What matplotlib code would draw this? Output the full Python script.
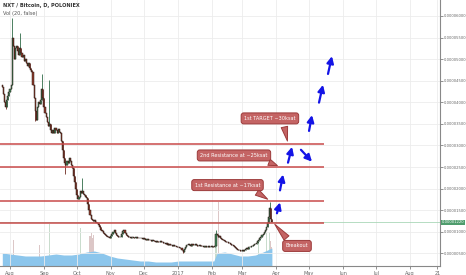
import numpy as np
import pandas as pd
import matplotlib
matplotlib.use('Agg')
import matplotlib.pyplot as plt
import matplotlib.dates as mdates
import matplotlib.transforms as mtransforms

SAT = 1e-8  # prices below are in satoshi

# daily closes, NXT/BTC, from 2016-07-25
close = [4350, 4200, 4000, 3900, 4050, 4150, 4250, 4300, 4400, 5500,
         5300, 5000, 5250, 5300,
         5200, 5100, 5250, 5150, 5050,
         5100, 4950, 5000, 4900,
         4850, 4900, 4800, 4750, 4700,
         4400, 4100, 3800, 3600,
         3900, 4000, 3950, 4050, 4300,
         4100, 3900, 3750, 3650,
         3550, 3450, 3500, 3350, 3300,
         3350, 3300, 3400, 3350, 3300, 3380, 3320, 3300,
         3100, 2900, 2700, 2600,
         2550, 2650, 2600, 2700, 2650, 2550, 2480,
         2300, 2150, 2000, 1850, 1750,
         1800, 1950, 1900, 1950,
         1880, 1850, 1800, 1780,
         1650, 1500, 1400, 1300, 1270,
         1250, 1280, 1230, 1210, 1200,
         1150, 1100, 1050, 1020, 980, 950, 920, 900, 880,
         870, 860, 900, 950, 1000,
         1040, 980, 930, 900, 880, 870, 880,
         950, 1020, 1040, 980,
         930, 900, 880, 870, 860, 870, 880, 860, 850, 870, 860, 850, 860, 850,
         850, 840, 860, 830, 820, 840, 810, 800, 820, 790, 800, 780, 790, 770,
         780, 760, 770, 780, 770,
         760, 740, 750, 720, 730, 700, 710, 690, 700, 680, 690, 670, 660, 650,
         640, 650, 630, 620,
         580, 540,
         600, 650, 700, 690, 720, 700, 680, 710, 700, 690, 720, 700, 680, 670,
         690, 680,
         670, 660, 650, 660, 640, 650, 660, 640, 650, 660, 650, 640, 660,
         950, 920, 880, 900, 860, 840,
         820, 800, 790, 770, 760, 740, 730, 720, 700, 690, 670, 650, 630, 610, 590,
         580, 560, 550, 570, 560, 580,
         600, 620, 610, 650, 640, 680, 670, 700, 720, 710, 750, 780, 800,
         850, 880, 920, 960, 1000, 1050, 1100,
         1200, 1350, 1550,
         1300, 1220]
first_open = 4400
# notable wicks (day index -> price)
wick_high = {9: 5950, 16: 5600, 36: 4660, 43: 4520, 73: 2250, 195: 1050, 244: 1680}
wick_low = {3: 3850, 30: 3560, 57: 2340, 165: 520}

# volume bars that show above the average (day index -> volume)
vol_spikes = {10: 26, 34: 21, 43: 42, 71: 38, 80: 30, 81: 33, 82: 28, 83: 31,
              195: 30, 197: 64, 234: 26, 237: 13, 241: 33, 244: 34, 245: 25, 246: 19}
# volume moving average (20), one reading per week
vol_ma_idx = [0, 7, 14, 21, 28, 35, 42, 49, 56, 63, 70, 77, 84, 91, 98, 105, 112,
              119, 126, 133, 140, 147, 154, 161, 168, 175, 182, 189, 193, 196,
              203, 210, 217, 224, 231, 238, 246]
vol_ma = [13, 12, 11, 10, 10, 10, 11, 12, 11, 11, 12, 14, 15, 13, 10, 8, 7,
          6, 5, 5, 4, 4, 4, 5, 5, 5, 5, 5, 5, 13,
          14, 12, 10, 10, 11, 14, 18]

levels = [1210, 1720, 2510, 3030]
last_price = 1220

notes = ['1st TARGET ~30ksat', '2nd Resistance at ~25ksat',
         '1st Resistance at ~17ksat', 'Breakout']
note_text_day = [237.2, 204.4, 198.5, 261.9]   # days after 2016-08-01
note_text_px = [3627, 2769, 2082, 673]
note_tip_day = [253.7, 246.4, 237.3, 240.0]
note_tip_px = [3040, 2510, 1720, 1223]
note_rel = [(0.75, 0.3), (0.8, 0.3), (0.8, 0.3), (0.3, 0.7)]

arrow_d0 = [243.6, 246.4, 253.7, 265.5, 272.9, 282.0, 290.2]
arrow_p0 = [1429, 1960, 2602, 2900, 3337, 3993, 4657]
arrow_d1 = [246.4, 249.2, 257.4, 275.6, 275.6, 285.6, 293.8]
arrow_p1 = [1681, 2327, 2968, 2625, 3704, 4405, 5069]

days = pd.date_range('2016-07-25', periods=len(close), freq='D')
x = mdates.date2num(days)
base = mdates.date2num(pd.Timestamp('2016-08-01'))
c = np.array(close, dtype=float)
o = np.concatenate([[first_open], c[:-1]])
hi = np.maximum(o, c)
lo = np.minimum(o, c)
for k, v in wick_high.items():
    hi[k] = v
for k, v in wick_low.items():
    lo[k] = v
up = c >= o

fig = plt.figure(figsize=(4.66, 2.75), dpi=100)
ax = fig.add_axes([0, 9 / 275, 440 / 466, 266 / 275])
axv = ax.twinx()
ax.set_zorder(axv.get_zorder() + 1)
ax.patch.set_visible(False)

# volume
vi = np.array(list(vol_spikes.keys()))
vv = np.array(list(vol_spikes.values()))
axv.bar(x[vi], vv, width=1.0, color=np.where(up[vi], '#c9dccd', '#dcc7c7'), zorder=1)
axv.fill_between(x[vol_ma_idx], 0, vol_ma, color='#8cc6ec', lw=0, zorder=2)
axv.set_ylim(0, 266)
axv.set_yticks([])
for s in axv.spines.values():
    s.set_visible(False)

# candles
ax.vlines(x, hi * SAT, lo * SAT, color=np.where(up, '#2f6b48', '#6e2a20'), lw=0.6, zorder=3)
ax.bar(x, (c - o) * SAT, bottom=o * SAT, width=1.0,
       color=np.where(up, '#3f8a5c', '#8e3b2b'), edgecolor='#2a1a14', lw=0.35, zorder=4)

xmin = base - 9.1
xmax = base + 392.4
end_lines = base + 286.5
for lv in levels:
    ax.hlines(lv * SAT, xmin, end_lines, color='#c94a4a', lw=1.1, zorder=5)
ax.axhline(last_price * SAT, color='#a9d7b8', lw=0.6, zorder=2)

for d0, p0, d1, p1 in zip(arrow_d0, arrow_p0, arrow_d1, arrow_p1):
    ax.annotate('', xy=(base + d1, p1 * SAT), xytext=(base + d0, p0 * SAT),
                arrowprops=dict(arrowstyle='-|>,head_length=0.5,head_width=0.25',
                                color='#1414e6', lw=1.6, mutation_scale=8,
                                shrinkA=0, shrinkB=0), zorder=6)

for t, td, tp, pd_, pp, rp in zip(notes, note_text_day, note_text_px,
                                  note_tip_day, note_tip_px, note_rel):
    ax.annotate(t, xy=(base + pd_, pp * SAT), xytext=(base + td, tp * SAT),
                ha='center', va='center', fontsize=3.6, color='white',
                bbox=dict(boxstyle='round,pad=0.6,rounding_size=0.5', fc='#c46464',
                          ec='#9c3a3a', lw=0.7),
                arrowprops=dict(arrowstyle='wedge,tail_width=1.3,shrink_factor=0.5',
                                fc='#c46464', ec='#9c3a3a', lw=0.7, relpos=rp),
                zorder=7)

ax.set_xlim(xmin, xmax)
ax.set_ylim(2.08e-6, 6.37e-5)

months = pd.date_range('2016-08-01', '2017-08-01', freq='MS')
xt = list(mdates.date2num(months)) + [mdates.date2num(pd.Timestamp('2017-08-26'))]
xl = ['2017' if m.month == 1 else m.strftime('%b') for m in months] + ['21']
ax.set_xticks(xt)
ax.set_xticklabels(xl)
yt = np.arange(1, 13) * 5e-6
ax.set_yticks(yt)
ax.set_yticklabels([f'{v:.8f}' for v in yt])
ax.yaxis.tick_right()
ax.tick_params(axis='y', length=2, pad=1, labelsize=2.7, colors='#666', width=0.5)
ax.tick_params(axis='x', length=2, pad=1.5, labelsize=3.6, colors='#666', width=0.5)
ax.grid(True, color='#ececec', lw=0.6)
ax.set_axisbelow(True)
for s in ['top', 'left']:
    ax.spines[s].set_visible(False)
for s in ['right', 'bottom']:
    ax.spines[s].set_color('#888')
    ax.spines[s].set_linewidth(0.8)

trans = mtransforms.blended_transform_factory(ax.transAxes, ax.transData)
ax.text(1.003, last_price * SAT, f'{last_price * SAT:.8f}', transform=trans,
        fontsize=2.7, color='white', va='center', ha='left',
        bbox=dict(boxstyle='square,pad=0.2', fc='#4e9c6c', ec='none'), zorder=8, clip_on=False)

fig.text(3 / 466, 1 - 6 / 275, 'NXT / Bitcoin, D, POLONIEX', fontsize=3.6,
         color='#333', weight='bold', va='center')
fig.text(3 / 466, 1 - 14 / 275, 'Vol (20, false)', fontsize=3.6, color='#555', va='center')

fig.savefig('out.png', dpi=100)
